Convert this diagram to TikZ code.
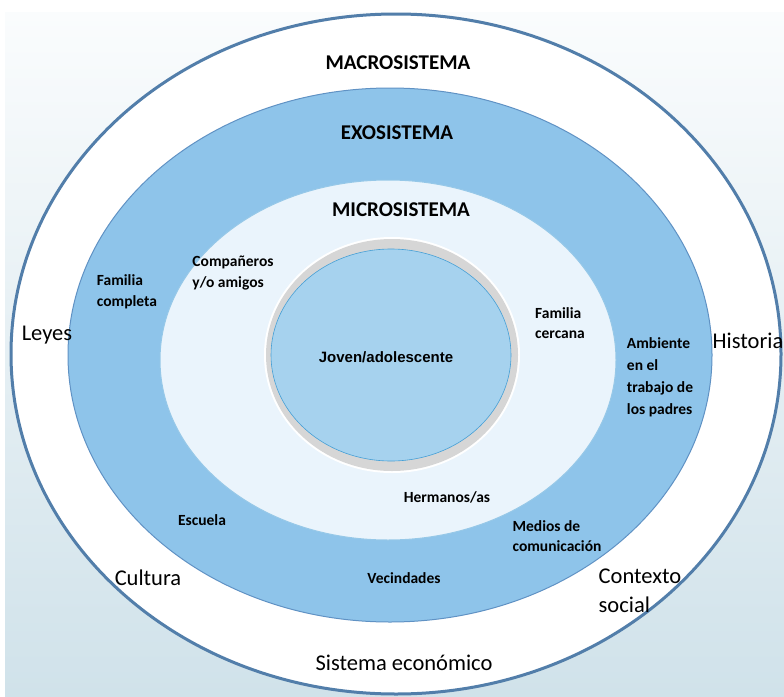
\documentclass[tikz,border=0pt]{standalone}
\usepackage{fontspec}
\setmainfont{Carlito}
\newfontfamily\arialfont{Liberation Sans}
\usetikzlibrary{positioning}

\definecolor{bgtop}{RGB}{250,252,253}
\definecolor{bgbot}{RGB}{208,226,234}
\definecolor{macroline}{RGB}{82,126,170}
\definecolor{exofill}{RGB}{142,196,234}
\definecolor{exoline}{RGB}{96,146,196}
\definecolor{microfill}{RGB}{234,244,252}
\definecolor{microline}{RGB}{150,200,232}
\definecolor{ringgray}{RGB}{214,214,214}
\definecolor{corefill}{RGB}{166,210,238}
\definecolor{coreline}{RGB}{70,160,214}

\begin{document}
\begin{tikzpicture}[
    x=1pt, y=-1pt,
    layertitle/.style={font=\fontsize{21}{25}\selectfont\bfseries, inner sep=0pt},
    smalllabel/.style={font=\fontsize{15.5}{20.5}\selectfont\bfseries, align=left, inner sep=0pt},
    macrolabel/.style={font=\fontsize{22.5}{29}\selectfont, align=left, inner sep=0pt},
    corelabel/.style={font=\arialfont\fontsize{15}{18}\selectfont\bfseries, inner sep=0pt}
]

% ============ BACKGROUND ============
\useasboundingbox (0,0) rectangle (784,696);
\fill[white] (0,0) rectangle (784,696);
\fill[top color=bgtop, bottom color=bgbot] (5,12) rectangle (784,696);

% ============ LAYERS ============
% macrosistema
\draw[macroline, line width=3pt, fill=white] (396,354) ellipse [x radius=385pt, y radius=340pt];
% exosistema
\draw[exoline, line width=1pt, fill=exofill] (390,355) ellipse [x radius=322pt, y radius=267pt];
% microsistema
\draw[microline, line width=1pt, fill=microfill] (388,360) ellipse [x radius=228pt, y radius=180pt];
% joven
\fill[white] (392,355) ellipse [x radius=128pt, y radius=118pt];
\fill[ringgray] (392,355) ellipse [x radius=126pt, y radius=116pt];
\draw[coreline, line width=0.6pt, fill=corefill] (391,355) ellipse [x radius=120pt, y radius=106pt];

% ============ TITLES ============
\node[layertitle] (macro) at (398,63) {MACROSISTEMA};
\node[layertitle] (exo) at (397,133) {EXOSISTEMA};
\node[layertitle] (micro) at (401,210) {MICROSISTEMA};
\node[corelabel] (joven) at (386,357) {Joven/adolescente};

% ============ MICROSISTEMA ============
\node[smalllabel] (companeros) at (233,273) {Compañeros\\y/o amigos};
\node[smalllabel] (cercana) at (560,323) {Familia\\cercana};
\node[smalllabel] (hermanos) at (447,497) {Hermanos/as};

% ============ EXOSISTEMA ============
\node[smalllabel] (completa) at (127,292) {Familia\\completa};
\node[smalllabel, font=\fontsize{15.5}{22}\selectfont\bfseries] (ambiente) at (660,377) {Ambiente\\en el\\trabajo de\\los padres};
\node[smalllabel] (escuela) at (202,520) {Escuela};
\node[smalllabel] (medios) at (557,536) {Medios de\\comunicación};
\node[smalllabel] (vecindades) at (404,578) {Vecindades};

% ============ MACROSISTEMA ============
\node[macrolabel] (leyes) at (47,335) {Leyes};
\node[macrolabel] (historia) at (748,341) {Historia};
\node[macrolabel] (cultura) at (148,578) {Cultura};
\node[macrolabel] (contexto) at (640,591) {Contexto\\social};
\node[macrolabel] (sistema) at (404,663) {Sistema económico};

\end{tikzpicture}
\end{document}
